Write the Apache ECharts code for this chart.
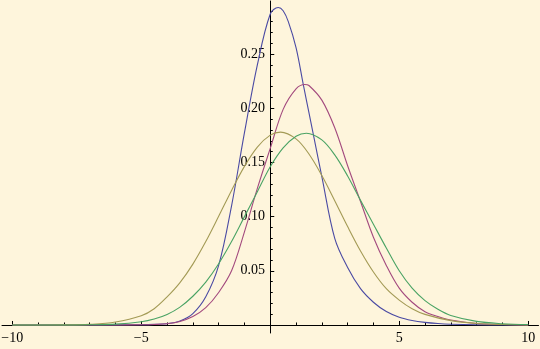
<!DOCTYPE html>
<html><head><meta charset="utf-8">
<script src="https://cdn.jsdelivr.net/npm/echarts@6/dist/echarts.min.js"></script>
<style>html,body{margin:0;padding:0;background:#FEF5DC}#c{width:540px;height:349px}</style>
</head><body><div id="c"></div>
<script>
// Curve samples (x, density)
const blueX = [-10,-7,-6,-5,-4.5,-4,-3.5,-3,-2.5,-2,-1.5,-1,-0.5,0,0.31,0.5,0.7,1,1.28,1.5,1.66,2,2.5,3,3.5,4,4.5,5,5.5,6,6.5,7,8,9,10];
const blueY = [0,0,0.0001,0.0003,0.0006,0.0012,0.0037,0.0105,0.026,0.055,0.11,0.1775,0.24,0.287,0.293,0.29,0.28,0.256,0.222,0.196,0.177,0.137,0.08,0.053,0.0335,0.021,0.0124,0.0072,0.0042,0.0024,0.0013,0.0007,0.0002,0.0001,0];

const purpleX = [-10,-6,-5,-4.5,-4,-3.5,-3,-2.5,-2,-1.5,-1,-0.5,0,0.5,1,1.34,1.5,2,2.5,3,3.5,4,4.5,5,5.5,6,6.5,7,8,9,10];
const purpleY = [0,0,0.0002,0.0005,0.0012,0.0033,0.0078,0.016,0.03,0.05,0.086,0.126,0.163,0.199,0.218,0.222,0.221,0.2075,0.182,0.147,0.114,0.081,0.055,0.034,0.021,0.0123,0.0078,0.0046,0.0014,0.0004,0.0001];

const yellowX = [-10,-8,-7,-6,-5,-4.5,-4,-3.5,-3,-2.5,-2,-1.5,-1,-0.5,0,0.4,1,1.5,2,2.5,3,3.5,4,4.5,5,5.5,6,7,8,9,10];
const yellowY = [0,0.0001,0.0006,0.0027,0.0085,0.015,0.0259,0.0391,0.0562,0.077,0.1003,0.1242,0.1464,0.1642,0.1752,0.178,0.1717,0.1578,0.1379,0.1147,0.0908,0.0683,0.0489,0.0335,0.023,0.015,0.0098,0.004,0.0014,0.0004,0.0001];

const greenX = [-10,-8,-7,-6,-5,-4.5,-4,-3.5,-3,-2.5,-2,-1.5,-1,-0.5,0,0.5,1,1.4,2,2.5,3,3.5,4,4.5,5,5.5,6,6.5,7,8,9,10];
const greenY = [0,0,0.0002,0.0008,0.003,0.0055,0.0097,0.0165,0.0265,0.0395,0.0565,0.077,0.1,0.123,0.146,0.1634,0.1742,0.177,0.1708,0.157,0.1375,0.115,0.093,0.071,0.05,0.034,0.0225,0.0145,0.0088,0.0033,0.0012,0.0004];

// Tick positions and labels
const xMinorTicks = [-9,-8,-7,-6,-4,-3,-2,-1,1,2,3,4,6,7,8,9];
const xMajorTicks = [-10,-5,5,10];
const yMinorTicks = [0.01,0.02,0.03,0.04,0.06,0.07,0.08,0.09,0.11,0.12,0.13,0.14,0.16,0.17,0.18,0.19,0.21,0.22,0.23,0.24,0.26,0.27,0.28,0.29];
const yMajorTicks = [0.05,0.10,0.15,0.20,0.25];

const X_MIN = -10.4, X_MAX = 10.4, Y_MIN = -0.0074, Y_MAX = 0.299;

const pairs = (xs, ys) => xs.map((x, i) => [x, ys[i]]);
const font = {fontFamily: 'Liberation Serif', fontSize: 14, color: '#000'};
const clear = 'rgba(0,0,0,0)';

const chart = echarts.init(document.getElementById('c'), null, {renderer: 'canvas'});
chart.setOption({
  animation: false,
  backgroundColor: '#FEF5DC',
  grid: {left: 2, right: 1.5, top: 1, bottom: 16, outerBoundsMode: 'none', containLabel: false},
  xAxis: [
    {type: 'value', min: X_MIN, max: X_MAX, position: 'bottom',
     axisLine: {show: true, onZero: true, onZeroAxisIndex: 0, lineStyle: {color: '#000', width: 1}},
     axisTick: {show: true, inside: true, length: 4, customValues: xMajorTicks, lineStyle: {color: '#000'}},
     axisLabel: Object.assign({show: true, margin: -2, customValues: xMajorTicks,
       formatter: v => v < 0 ? '\u2212' + Math.abs(v) : String(v)}, font),
     splitLine: {show: false}},
    {type: 'value', min: X_MIN, max: X_MAX, position: 'bottom',
     axisLine: {show: true, onZero: true, onZeroAxisIndex: 0, lineStyle: {color: clear}},
     axisTick: {show: true, inside: true, length: 2.5, customValues: xMinorTicks, lineStyle: {color: '#000'}},
     axisLabel: {show: false}, splitLine: {show: false}}
  ],
  yAxis: [
    {type: 'value', min: Y_MIN, max: Y_MAX, position: 'left',
     axisLine: {show: true, onZero: true, onZeroAxisIndex: 0, lineStyle: {color: '#000', width: 1}},
     axisTick: {show: true, inside: true, length: 4, customValues: yMajorTicks, lineStyle: {color: '#000'}},
     axisLabel: Object.assign({show: true, margin: -263, customValues: yMajorTicks,
       formatter: v => v.toFixed(2)}, font),
     splitLine: {show: false}},
    {type: 'value', min: Y_MIN, max: Y_MAX, position: 'left',
     axisLine: {show: true, onZero: true, onZeroAxisIndex: 0, lineStyle: {color: clear}},
     axisTick: {show: true, inside: true, length: 2.5, customValues: yMinorTicks, lineStyle: {color: '#000'}},
     axisLabel: {show: false}, splitLine: {show: false}}
  ],
  series: [
    {type: 'line', data: pairs(blueX, blueY), color: '#4A4AA3'},
    {type: 'line', data: pairs(purpleX, purpleY), color: '#A34A7E'},
    {type: 'line', data: pairs(yellowX, yellowY), color: '#A39A55'},
    {type: 'line', data: pairs(greenX, greenY), color: '#4AA364'}
  ].map(s => Object.assign(s, {xAxisIndex: 0, yAxisIndex: 0, showSymbol: false, smooth: 0.35,
    lineStyle: {width: 1.1}, emphasis: {disabled: true}}))
});
</script></body></html>
